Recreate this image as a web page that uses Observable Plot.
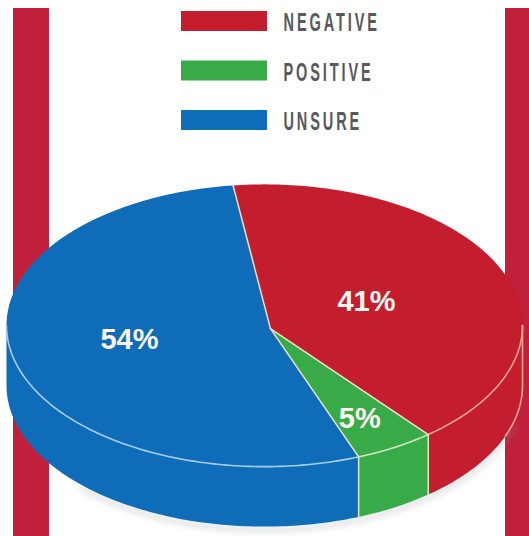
<!DOCTYPE html>
<html>
<head>
<meta charset="utf-8">
<script src="https://cdn.jsdelivr.net/npm/d3@7"></script>
<script src="https://cdn.jsdelivr.net/npm/@observablehq/plot@0.6"></script>
<style>
  html, body { margin: 0; padding: 0; background: #fff; }
  svg { display: block; }
  .legend-label { letter-spacing: 5px; }
</style>
</head>
<body>
<div id="chart"></div>
<script>
// Survey responses, in percent
const categories = ["NEGATIVE", "POSITIVE", "UNSURE"];
const shares = [41, 5, 54];
const sliceColors = ["#c41d2d", "#38ab48", "#0e6cb9"];
const rimTints = ["#f4a78f", "#cfe8c4", "#a8cdea"];
const labelRadius = [0.43, 0.73, 0.54];
const labelNudge = [0, 4, -4];

// Page geometry
const W = 529, H = 536;
const unit = 258;            // pixels per pie radius
const cx = 264, cy = 325;    // centre of the top face
const tilt = 0.547;          // vertical squash of the disc
const depth = 60 / unit;     // thickness of the disc
const apex = [0.023, 0.012];
const startAngle = -7;       // degrees clockwise from twelve o'clock

const toX = px => (px - cx) / unit;
const toY = px => (px - cy) / unit;
const rim = (deg, drop = 0) => {
  const a = deg * Math.PI / 180;
  return { x: Math.sin(a), y: -Math.cos(a) * tilt + drop };
};
const arc = (from, to, drop = 0) => {
  const n = Math.max(2, Math.ceil(Math.abs(to - from)));
  return d3.range(n + 1).map(i => rim(from + (to - from) * i / n, drop));
};

// Slice angles from the shares
const total = d3.sum(shares);
let running = startAngle;
const slices = categories.map((name, i) => {
  const a0 = running;
  running += shares[i] / total * 360;
  return { name, value: shares[i], a0, a1: running, mid: (a0 + running) / 2, tint: rimTints[i], r: labelRadius[i], nudge: labelNudge[i] };
});

// Top face: one closed polygon per slice
const faces = slices.flatMap(s => [
  { x: apex[0], y: apex[1] },
  ...arc(s.a0, s.a1)
].map(p => ({ ...p, name: s.name })));

// Side wall: only the part of each slice on the front half of the disc
const visible = slices
  .map(s => ({ ...s, from: Math.max(s.a0, 90), to: Math.min(s.a1, 270) }))
  .filter(s => s.to > s.from);
const walls = visible.flatMap(s => [
  ...arc(s.from, s.to),
  ...arc(s.to, s.from, depth)
].map(p => ({ ...p, name: s.name })));

// Pale rim lines along the front of the top face
const rimLines = visible.map(s =>
  Plot.line(arc(s.from, s.to), { x: "x", y: "y", stroke: s.tint, strokeWidth: 1.6 })
);

// Radial dividers on the top face, and vertical seams on the wall
const dividers = slices.map(s =>
  Plot.line([{ x: apex[0], y: apex[1] }, rim(s.a0)], { x: "x", y: "y", stroke: "#f1dfc8", strokeWidth: 1.5 })
);
const seams = slices
  .filter(s => s.a0 > 90 && s.a0 < 270)
  .map(s => Plot.line([rim(s.a0), rim(s.a0, depth)], { x: "x", y: "y", stroke: "#e6e8bf", strokeWidth: 1.5 }));

// Outer edge on the right, where the disc crosses the stripe
const rightEdge = [rim(90), ...arc(90, 111, depth)];

// Percent labels sit along each slice's middle angle
const labels = slices.map(s => {
  const p = rim(s.mid);
  return { text: `${s.value}%`, x: p.x * s.r, y: p.y * s.r + s.nudge / unit };
});

// Legend rows
const legendRows = categories.map((name, i) => ({
  name,
  top: toY(11 + i * 49.5),
  bottom: toY(31 + i * 49.5),
  middle: toY(22.5 + i * 49.5)
}));

// Crimson stripes running down both sides of the panel
const stripes = [
  { x1: toX(13), x2: toX(49) },
  { x1: toX(505), x2: toX(529) }
];

const chart = Plot.plot({
  width: W,
  height: H,
  margin: 0,
  x: { domain: [toX(0), toX(W)], range: [0, W], axis: null },
  y: { domain: [toY(0), toY(H)], range: [0, H], axis: null },
  color: { domain: categories, range: sliceColors },
  style: { background: "transparent" },
  marks: [
    Plot.rect(stripes, { x1: "x1", x2: "x2", y1: toY(8), y2: toY(H), fill: "#c1203a" }),

    // soft shadow beneath the disc
    Plot.line(arc(105, 225, depth), {
      x: "x", y: "y", stroke: "#8f9599", strokeWidth: 5, strokeOpacity: 0.3,
      dy: 3, imageFilter: "blur(3px)"
    }),

    Plot.line(walls, { x: "x", y: "y", z: "name", fill: "name", stroke: "none" }),
    Plot.line(faces, { x: "x", y: "y", z: "name", fill: "name", stroke: "none" }),
    ...seams,
    ...rimLines,
    ...dividers,
    Plot.line(rightEdge, { x: "x", y: "y", stroke: "#f4a78f", strokeWidth: 1.6 }),

    Plot.text(labels, {
      x: "x", y: "y", text: "text", fill: "#fdf8f2",
      fontFamily: "Liberation Sans", fontWeight: 700, fontSize: 29
    }),

    // legend
    Plot.rect(legendRows, { x1: toX(181), x2: toX(267), y1: "top", y2: "bottom", fill: "name" }),
    Plot.text(legendRows, {
      x: toX(283), y: "middle", text: "name", fill: "#565a5e", textAnchor: "start",
      fontFamily: "Liberation Sans", fontWeight: 700, fontSize: 25,
      className: "legend-label"
    })
  ]
});

document.getElementById("chart").append(chart);

// The legend face is tall and condensed: squeeze the wide bold letters horizontally
chart.querySelectorAll(".legend-label text").forEach(t => {
  t.setAttribute("textLength", (t.getComputedTextLength() * 0.58).toFixed(1));
  t.setAttribute("lengthAdjust", "spacingAndGlyphs");
});
</script>
</body>
</html>
